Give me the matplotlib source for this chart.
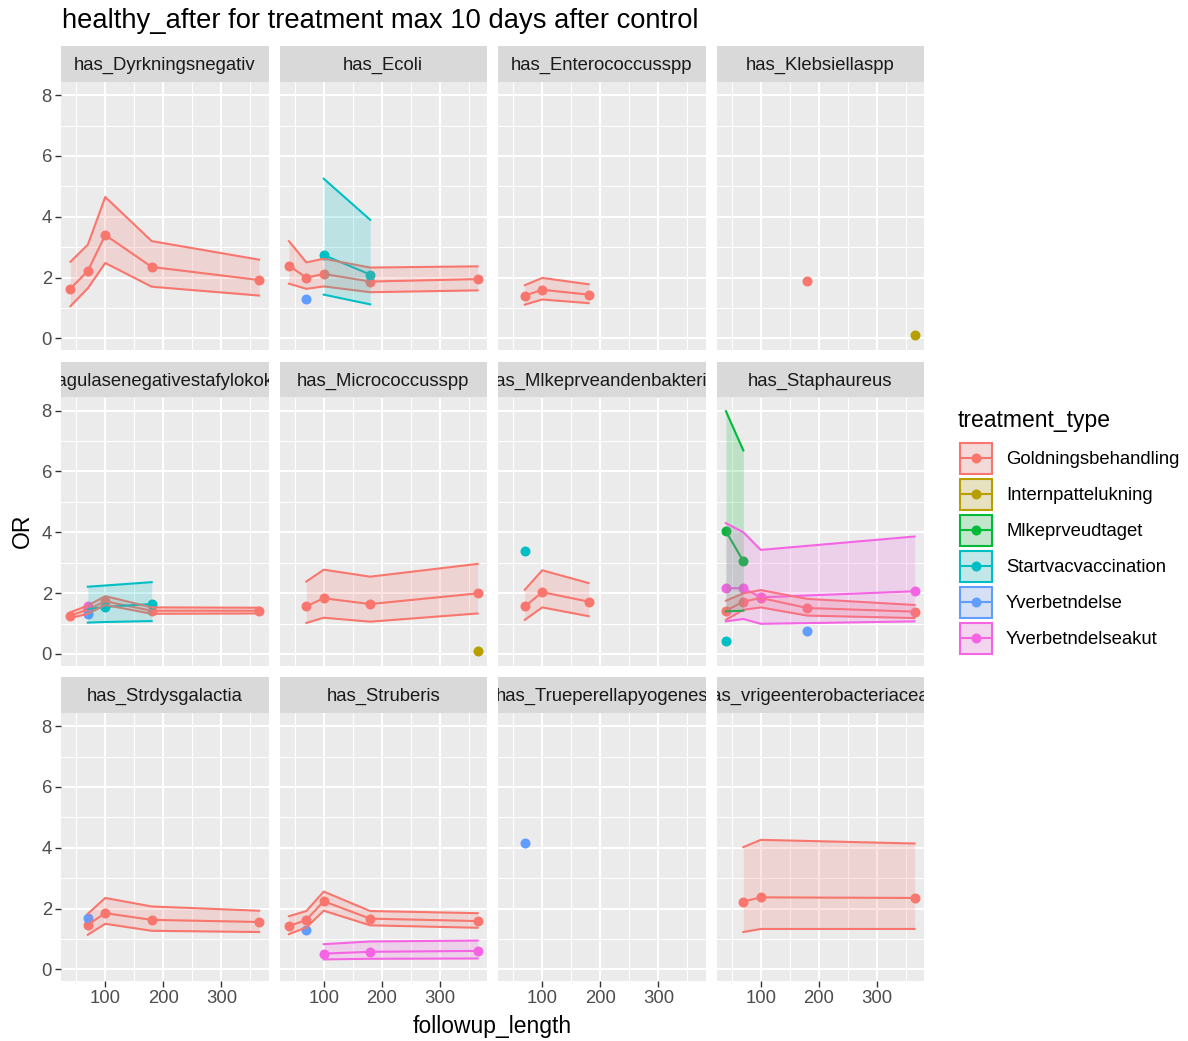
"""Facet grid of OR vs followup_length per bacteria, coloured by treatment type"""

import matplotlib
matplotlib.use("Agg")
import matplotlib.pyplot as plt
from matplotlib.patches import Rectangle
import numpy as np

plt.rcParams['font.family'] = ['Liberation Sans', 'DejaVu Sans']

W, H = 1188, 1041

facets = ["has_Dyrkningsnegativ", "has_Ecoli", "has_Enterococcusspp", "has_Klebsiellaspp",
          "has_Koagulasenegativestafylokokker", "has_Micrococcusspp",
          "has_Mlkeprveandenbakterie", "has_Staphaureus",
          "has_Strdysgalactia", "has_Struberis", "has_Trueperellapyogenes",
          "has_vrigeenterobacteriaceae"]

treatments = ["Goldningsbehandling", "Internpattelukning", "Mlkeprveudtaget",
              "Startvacvaccination", "Yverbetndelse", "Yverbetndelseakut"]
colors = ["#F8766D", "#B79F00", "#00BA38", "#00BFC4", "#619CFF", "#F564E3"]

# one entry per series (facet, treatment): followup_length, OR, lower CI, upper CI
series_facet = [0, 1, 1, 1, 2, 3, 3, 4, 4, 4, 4, 5, 5, 6, 6,
                7, 7, 7, 7, 7, 8, 8, 9, 9, 9, 10, 11]
series_treat = [0, 0, 3, 4, 0, 0, 1, 0, 3, 4, 5, 0, 1, 0, 3,
                0, 2, 3, 4, 5, 0, 4, 0, 4, 5, 4, 0]
series_days = [
    [40, 70, 100, 180, 365],
    [40, 70, 100, 180, 365], [100, 180], [70],
    [70, 100, 180],
    [180], [365],
    [40, 70, 100, 180, 365], [70, 100, 180], [70], [70],
    [70, 100, 180, 365], [365],
    [70, 100, 180], [70],
    [40, 70, 100, 180, 365], [40, 70], [40], [180], [40, 70, 100, 365],
    [70, 100, 180, 365], [70],
    [40, 70, 100, 180, 365], [70], [100, 180, 365],
    [70],
    [70, 100, 365],
]
series_or = [
    [1.64, 2.22, 3.40, 2.35, 1.92],
    [2.39, 2.00, 2.12, 1.87, 1.95], [2.74, 2.10], [1.30],
    [1.41, 1.60, 1.44],
    [1.89], [0.11],
    [1.26, 1.46, 1.73, 1.42, 1.42], [1.47, 1.55, 1.64], [1.32], [1.56],
    [1.57, 1.83, 1.64, 1.99], [0.11],
    [1.56, 2.03, 1.72], [3.39],
    [1.42, 1.72, 1.84, 1.51, 1.39], [4.03, 3.05], [0.44], [0.77], [2.16, 2.16, 1.86, 2.06],
    [1.47, 1.85, 1.63, 1.56], [1.69],
    [1.42, 1.63, 2.24, 1.67, 1.59], [1.30], [0.52, 0.58, 0.61],
    [4.17],
    [2.23, 2.37, 2.35],
]
series_lo = [
    [1.06, 1.65, 2.48, 1.70, 1.41],
    [1.80, 1.63, 1.71, 1.52, 1.58], [1.44, 1.12], None,
    [1.11, 1.28, 1.16],
    None, None,
    [1.18, 1.32, 1.61, 1.32, 1.33], [1.03, 1.05, 1.08], None, None,
    [1.02, 1.19, 1.06, 1.33], None,
    [1.12, 1.53, 1.24], None,
    [1.12, 1.45, 1.53, 1.26, 1.18], [1.40, 1.42], None, None, [1.07, 1.15, 0.99, 1.07],
    [1.14, 1.50, 1.27, 1.23], None,
    [1.16, 1.38, 1.93, 1.45, 1.37], None, [0.33, 0.35, 0.36],
    None,
    [1.23, 1.33, 1.33],
]
series_hi = [
    [2.52, 3.08, 4.65, 3.20, 2.59],
    [3.20, 2.50, 2.62, 2.33, 2.37], [5.25, 3.90], None,
    [1.75, 1.99, 1.78],
    None, None,
    [1.37, 1.59, 1.90, 1.53, 1.52], [2.21, 2.25, 2.36], None, None,
    [2.38, 2.77, 2.54, 2.96], None,
    [2.11, 2.75, 2.33], None,
    [1.75, 1.99, 2.10, 1.81, 1.61], [7.98, 6.69], None, None, [4.30, 4.00, 3.42, 3.86],
    [1.83, 2.35, 2.07, 1.93], None,
    [1.75, 1.92, 2.56, 1.92, 1.85], None, [0.83, 0.92, 0.95],
    None,
    [4.02, 4.26, 4.14],
]

x_ticks = [100, 200, 300]
y_ticks = [0, 2, 4, 6, 8]

fig = plt.figure(figsize=(W / 100, H / 100), dpi=100)
fig.patch.set_facecolor("white")


def px_axes(left, top, width, height):
    return fig.add_axes([left / W, 1 - (top + height) / H, width / W, height / H])


col_left = [61, 279.5, 498, 716.5]
row_top = [82, 397.5, 713]
pw, ph, sh = 207.5, 268, 35.7

axes = []
for i, name in enumerate(facets):
    r, c = divmod(i, 4)
    ax = px_axes(col_left[c], row_top[r], pw, ph)
    ax.set_facecolor("#EBEBEB")
    for s in ax.spines.values():
        s.set_visible(False)
    ax.set_xlim(23.75, 381.25)
    ax.set_ylim(-0.38, 8.43)
    ax.set_xticks(x_ticks)
    ax.set_xticks([50, 150, 250, 350], minor=True)
    ax.set_yticks(y_ticks)
    ax.set_yticks([1, 3, 5, 7], minor=True)
    ax.grid(which="major", color="white", lw=1.5)
    ax.grid(which="minor", color="white", lw=0.75)
    ax.set_axisbelow(True)
    ax.tick_params(which="minor", length=0)
    ax.tick_params(which="major", color="#333333", length=4, width=1.0,
                   labelcolor="#4D4D4D", labelsize=13.3, pad=2.5)
    if c != 0:
        ax.tick_params(axis="y", length=0, labelleft=False)
    if r != 2:
        ax.tick_params(axis="x", length=0, labelbottom=False)
    axes.append(ax)

    # strip (long names get clipped like in ggplot)
    sax = px_axes(col_left[c], row_top[r] - sh, pw, sh)
    sax.set_facecolor("#D9D9D9")
    sax.set_xticks([])
    sax.set_yticks([])
    for s in sax.spines.values():
        s.set_visible(False)
    tx = 0.5 - 18 / pw if i == 4 else 0.5
    sax.text(tx, 0.46, name, ha="center", va="center", fontsize=13.3,
             color="#1A1A1A", transform=sax.transAxes, clip_on=True)

# points, then lines, then ribbons on top (ggplot layer order)
for f, t, d, o in zip(series_facet, series_treat, series_days, series_or):
    axes[f].plot(d, o, "o", color=colors[t], ms=7.2, mew=0, zorder=2)
for f, t, d, o in zip(series_facet, series_treat, series_days, series_or):
    if len(d) > 1:
        axes[f].plot(d, o, "-", color=colors[t], lw=1.5, zorder=2)
for f, t, d, lo, hi in zip(series_facet, series_treat, series_days, series_lo, series_hi):
    if lo is None:
        continue
    ax = axes[f]
    ax.fill_between(d, lo, hi, color=colors[t], alpha=0.2, lw=0, zorder=3)
    ax.plot(d, lo, "-", color=colors[t], lw=1.5, zorder=3)
    ax.plot(d, hi, "-", color=colors[t], lw=1.5, zorder=3)

# titles
fig.text(62 / W, 1 - 21 / H, "healthy_after for treatment max 10 days after control",
         ha="left", va="center", fontsize=19.7, color="black")
fig.text(492 / W, 1 - 1026 / H, "followup_length", ha="center", va="center",
         fontsize=16.5, color="black")
fig.text(22 / W, 1 - 531 / H, "OR", ha="center", va="center", rotation=90,
         fontsize=16.5, color="black")

# legend
lax = fig.add_axes([0, 0, 1, 1])
lax.set_xlim(0, W)
lax.set_ylim(H, 0)
lax.axis("off")
lax.patch.set_visible(False)
lax.text(958, 420, "treatment_type", ha="left", va="center", fontsize=16.5, color="black")
for k, (name, col) in enumerate(zip(treatments, colors)):
    cy = 458 + 36 * k
    lax.add_patch(Rectangle((959, cy - 16.5), 34, 33, facecolor="#F2F2F2", edgecolor="none"))
    lax.add_patch(Rectangle((960, cy - 15.5), 32, 31, facecolor=col, alpha=0.2,
                            edgecolor="none"))
    lax.add_patch(Rectangle((960, cy - 15.5), 32, 31, facecolor="none", edgecolor=col, lw=1.5))
    lax.plot([962, 990], [cy, cy], color=col, lw=1.5)
    lax.plot([976], [cy], "o", color=col, ms=7.2, mew=0)
    lax.text(1006, cy + 1, name, ha="left", va="center", fontsize=13.3, color="black")

fig.savefig("out.png", dpi=100)
